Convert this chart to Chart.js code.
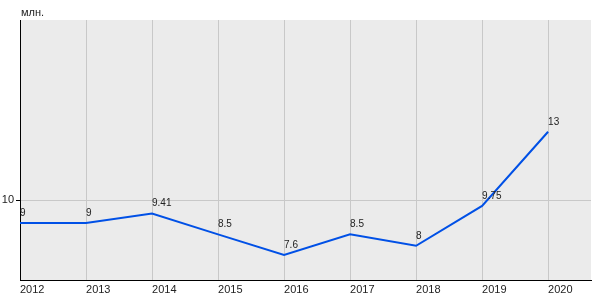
<!DOCTYPE html>
<html>
<head>
<meta charset="utf-8">
<script src="https://cdn.jsdelivr.net/npm/chart.js@4"></script>
<style>
  html, body { margin: 0; padding: 0; background: #fff; }
  #wrap { width: 600px; height: 300px; }
</style>
</head>
<body>
<div id="wrap"><canvas id="myChart"></canvas></div>
<script>
// chart data
const years = [2012, 2013, 2014, 2015, 2016, 2017, 2018, 2019, 2020];
const values = [9, 9, 9.41, 8.5, 7.6, 8.5, 8, 9.75, 13];
const valueLabels = ['9', '9', '9.41', '8.5', '7.6', '8.5', '8', '9.75', '13'];
const yTicks = [10];
const unitLabel = 'млн.';

// grey plot background, unit label and value labels
const extras = {
  id: 'extras',
  beforeDraw(chart) {
    const a = chart.chartArea;
    const c = chart.ctx;
    c.save();
    c.fillStyle = '#ebebeb';
    c.fillRect(a.left, a.top, a.right - a.left, a.bottom - a.top);
    c.restore();
  },
  afterDatasetsDraw(chart) {
    const c = chart.ctx;
    const a = chart.chartArea;
    c.save();
    c.fillStyle = '#222';
    c.font = '11px Arial, "Liberation Sans", sans-serif';
    c.textAlign = 'left';
    c.textBaseline = 'middle';
    c.fillText(unitLabel, a.left + 1, a.top - 7);
    c.font = '10px Arial, "Liberation Sans", sans-serif';
    c.textBaseline = 'bottom';
    chart.getDatasetMeta(0).data.forEach((pt, i) => {
      c.fillText(valueLabels[i], pt.x, pt.y - 5);
    });
    c.restore();
  }
};

const ctx = document.getElementById('myChart').getContext('2d');
const chart = new Chart(ctx, {
  type: 'line',
  data: {
    datasets: [{
      data: years.map((y, i) => ({ x: y, y: values[i] })),
      borderColor: '#0050e6',
      borderWidth: 2,
      pointRadius: 0,
      tension: 0,
      fill: false
    }]
  },
  options: {
    responsive: true,
    maintainAspectRatio: false,
    animation: false,
    layout: { padding: { top: 20, right: 9, left: 0, bottom: 0 } },
    plugins: {
      legend: { display: false },
      tooltip: { enabled: false }
    },
    scales: {
      x: {
        type: 'linear',
        min: 2012,
        max: 2020.65,
        afterBuildTicks: axis => { axis.ticks = years.map(v => ({ value: v })); },
        afterFit: axis => { axis.height = 20; },
        grid: { color: '#c8c8c8', drawTicks: false },
        border: { color: '#000', width: 1 },
        ticks: {
          align: 'start',
          padding: 3,
          color: '#222',
          font: { family: 'Arial, "Liberation Sans", sans-serif', size: 11 },
          callback: v => String(v),
          maxRotation: 0,
          autoSkip: false
        }
      },
      y: {
        min: 6.5,
        max: 17.9,
        afterBuildTicks: axis => { axis.ticks = yTicks.map(v => ({ value: v })); },
        afterFit: axis => { axis.width = 20; },
        grid: { color: '#c8c8c8', tickLength: 4, tickColor: '#000' },
        border: { color: '#000', width: 1 },
        ticks: {
          padding: 2,
          color: '#222',
          font: { family: 'Arial, "Liberation Sans", sans-serif', size: 11 },
          callback: v => String(v)
        }
      }
    }
  },
  plugins: [extras]
});
</script>
</body>
</html>
